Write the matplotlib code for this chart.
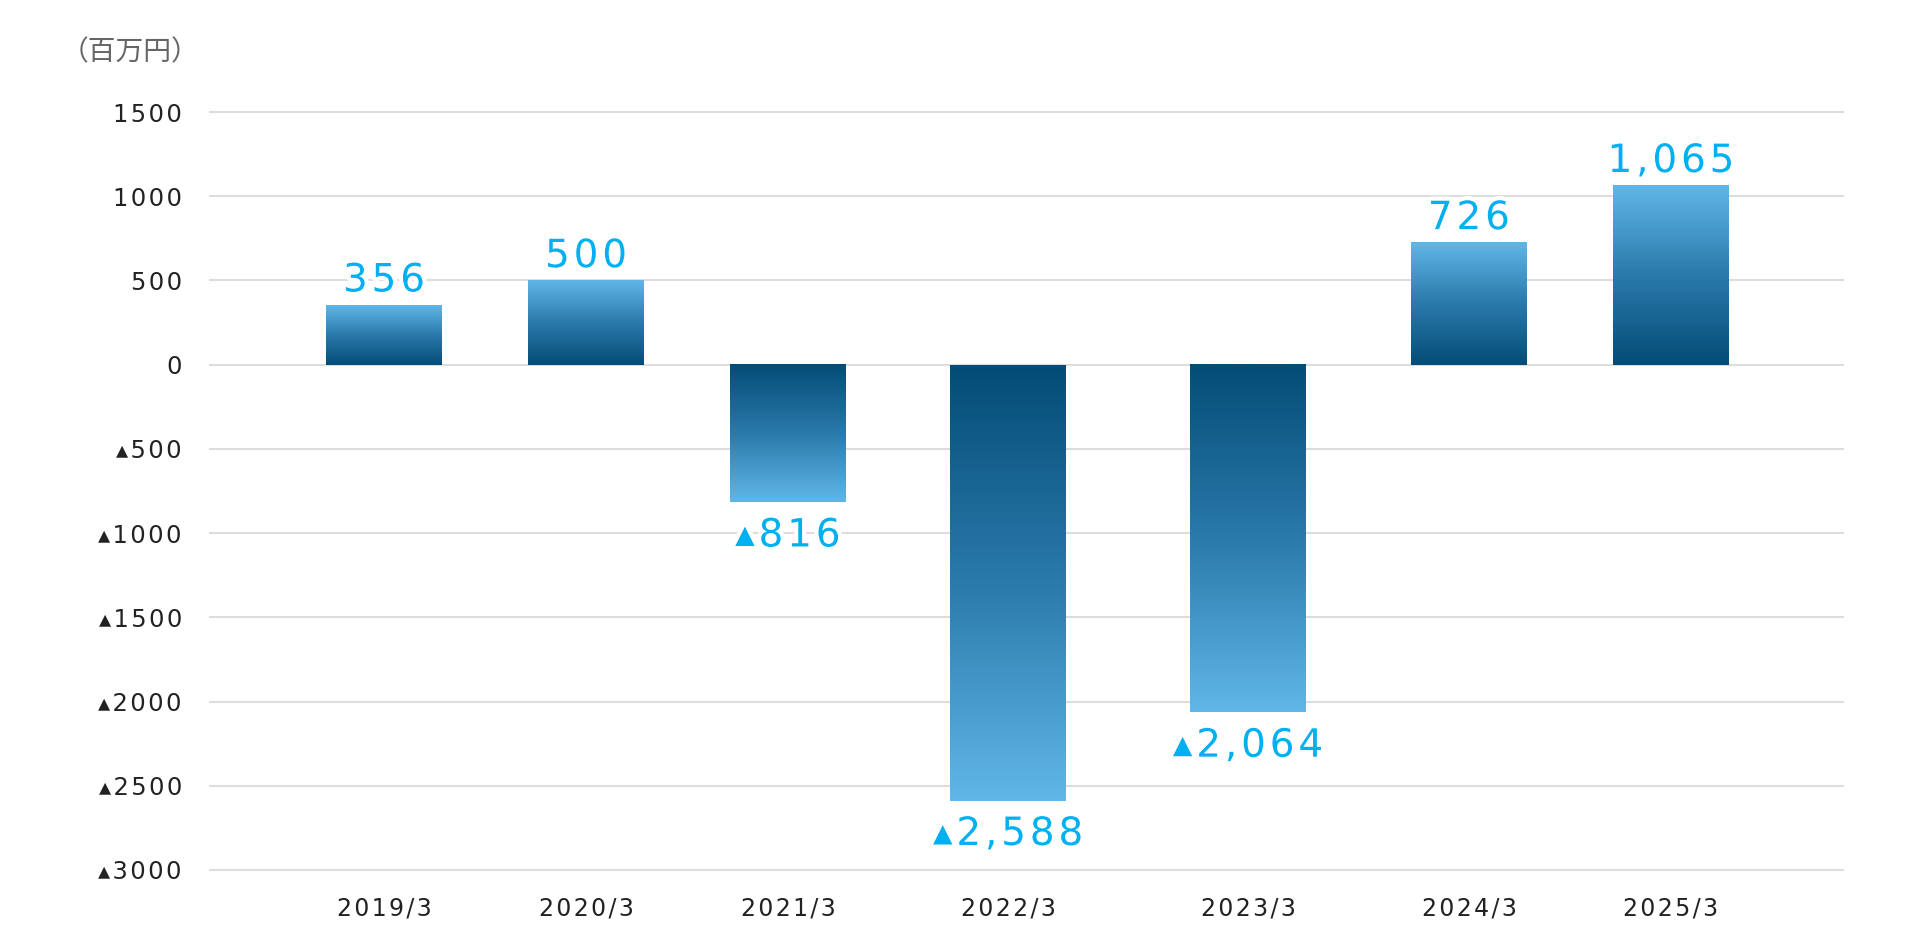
import numpy as np
import matplotlib
matplotlib.use("Agg")
import matplotlib.pyplot as plt
import matplotlib.patheffects as pe
from matplotlib.colors import LinearSegmentedColormap

# ---- data ----
categories = ["2019/3", "2020/3", "2021/3", "2022/3", "2023/3", "2024/3", "2025/3"]
values = [356, 500, -816, -2588, -2064, 726, 1065]
ytick_values = [1500, 1000, 500, 0, -500, -1000, -1500, -2000, -2500, -3000]
unit_label = "（百万円）"

# ---- layout (pixel-space x positions of categories) ----
W, H = 1930, 940
x_left, x_right = 209, 1844
x_pos = [384, 586, 788, 1008, 1248, 1469, 1671]
bar_w = 116
y_top_px, y_bot_px = 112, 870  # pixel rows of 1500 and -3000
ymin, ymax = -3000, 1500
pad = 40  # value units of padding so edge gridlines are not clipped

HAIR = "\u200A"


def track(s, sp=HAIR):
    return sp.join(list(s))


def tick_fmt(v):
    s = "\u25B4" + f"{-v:d}" if v < 0 else f"{v:d}"
    return track(s)


def label_fmt(v):
    s = "\u25B4" + f"{-v:,d}" if v < 0 else f"{v:,d}"
    return track(s)


fig = plt.figure(figsize=(W / 100, H / 100), dpi=100)
ppu = (y_bot_px - y_top_px) / (ymax - ymin)
ax_top = y_top_px - pad * ppu
ax_bot = y_bot_px + pad * ppu
ax = fig.add_axes([x_left / W, 1 - ax_bot / H, (x_right - x_left) / W, (ax_bot - ax_top) / H])

for s in ax.spines.values():
    s.set_visible(False)

ax.set_yticks(ytick_values)
ax.set_yticklabels([tick_fmt(v) for v in ytick_values], fontsize=17.5, color="#222222",
                   family=["DejaVu Sans"])
ax.tick_params(axis="y", length=0, pad=19.5)
ax.set_xticks(x_pos)
ax.set_xticklabels([track(c) for c in categories], fontsize=17, color="#222222",
                   family=["DejaVu Sans"])
ax.tick_params(axis="x", length=0, pad=14)
ax.grid(axis="y", color="#dddddd", linewidth=1.5, zorder=0)
ax.set_axisbelow(True)

cmap = LinearSegmentedColormap.from_list("g", ["#044c77", "#2a7aab", "#60b7e7"])
grad = np.linspace(0, 1, 256).reshape(-1, 1)

for x, v in zip(x_pos, values):
    x0, x1 = x - bar_w / 2, x + bar_w / 2
    if v >= 0:
        ax.imshow(grad, cmap=cmap, extent=(x0, x1, 0, v), origin="lower",
                  aspect="auto", zorder=2, interpolation="bilinear")
        off = 17.5
    else:
        ax.imshow(grad, cmap=cmap, extent=(x0, x1, v, 0), origin="upper",
                  aspect="auto", zorder=2, interpolation="bilinear")
        off = -24
    ax.annotate(label_fmt(v), xy=(x, v), xytext=(0, off), textcoords="offset points",
                ha="center", va="center", fontsize=28, color="#00b0f0", zorder=4,
                family=["DejaVu Sans"],
                path_effects=[pe.withStroke(linewidth=6, foreground="white")])

ax.set_xlim(x_left, x_right)
ax.set_ylim(ymin - pad, ymax + pad)

fig.text(130 / W, 1 - 52 / H, unit_label, fontsize=20, color="#666666",
         family=["Noto Sans CJK JP", "DejaVu Sans"], ha="center", va="center")

fig.savefig("out.png", dpi=100)
